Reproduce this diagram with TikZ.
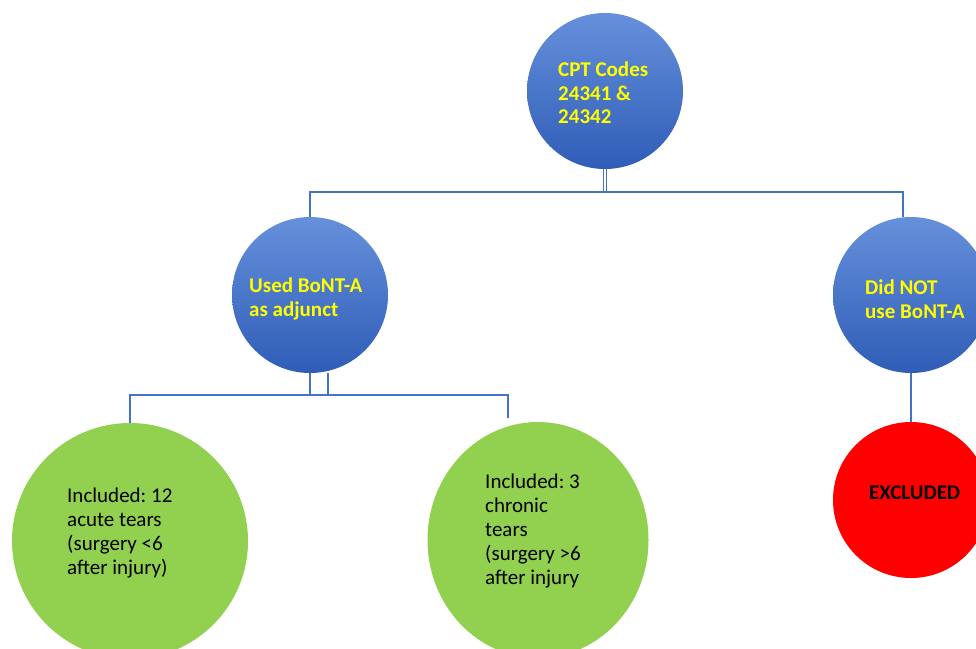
\documentclass[tikz,border=0pt]{standalone}
\usepackage{fontspec}
\setmainfont{Carlito}
\usetikzlibrary{shapes.geometric,backgrounds}
\definecolor{bluetop}{HTML}{6690DB}
\definecolor{bluebot}{HTML}{2F5DB7}
\definecolor{conncol}{HTML}{4472C4}
\definecolor{grn}{HTML}{92D050}
\definecolor{rd}{HTML}{FF0000}
\definecolor{ylw}{HTML}{FFFF00}
\tikzset{
  bluec/.style={circle, inner sep=0pt, minimum size=156pt, top color=bluetop, bottom color=bluebot, draw=none},
  greenc/.style={circle, inner sep=0pt, fill=grn, draw=none},
  redc/.style={circle, inner sep=0pt, minimum size=156pt, fill=rd, draw=none},
  ytext/.style={anchor=west, inner sep=0pt, align=left, text=ylw, font=\fontsize{21}{23.5}\selectfont\bfseries},
  ktext/.style={anchor=west, inner sep=0pt, align=left, text=black, font=\fontsize{21}{24}\selectfont},
  ktextb/.style={anchor=west, inner sep=0pt, align=left, text=black, font=\fontsize{21}{24}\selectfont\bfseries},
  conn/.style={draw=conncol, line width=1.1pt},
  dconn/.style={draw=conncol, line width=0.8pt, double=white, double distance=1.6pt}
}
\begin{document}
\frenchspacing
\begin{tikzpicture}[x=1pt, y=-1pt]
\useasboundingbox (0,0) rectangle (976,648);
% circles
\node[bluec] (cpt) at (605,91) {};
\node[bluec] (used) at (310,295) {};
\node[bluec] (dn) at (911,295) {};
\node[greenc, minimum size=236pt] (gl) at (130,541) {};
\node[greenc, ellipse, minimum width=221pt, minimum height=236pt] (gr) at (538,540) {};
\node[redc] (ex) at (911,500) {};
% texts
\node[ytext] (tcpt) at (558,93) {CPT Codes\\24341 \&\\24342};
\node[ytext] (tused) at (249,299) {Used BoNT-A\\as adjunct};
\node[ytext] (tdn) at (865,299) {Did NOT\\use BoNT-A};
\node[ktextb] (tex) at (869,493) {EXCLUDED};
\node[ktext] (tgl) at (67,533) {Included: 12\\acute tears\\(surgery <6\\after injury)};
\node[ktext] (tgr) at (485,531) {Included: 3\\chronic\\tears\\(surgery >6\\after injury};
% connectors
\coordinate (j1) at (605,192);
\coordinate (j2) at (310,395);
\coordinate (j3) at (328,395);
\coordinate (r1) at (508,418);
\begin{scope}[on background layer]
\draw[dconn] (cpt.south) -- (j1);
\draw[conn] (used.north) |- (j1) -| ([xshift=-8pt]dn.north);
\draw[conn] (used.south) -- (j2);
\draw[conn] ([xshift=18pt]used.south) -- (j3);
\draw[conn] (gl.north) |- (j2) -- (j3) -| (r1);
\draw[conn] (dn.south) -- (ex.north);
\end{scope}
\end{tikzpicture}
\end{document}
